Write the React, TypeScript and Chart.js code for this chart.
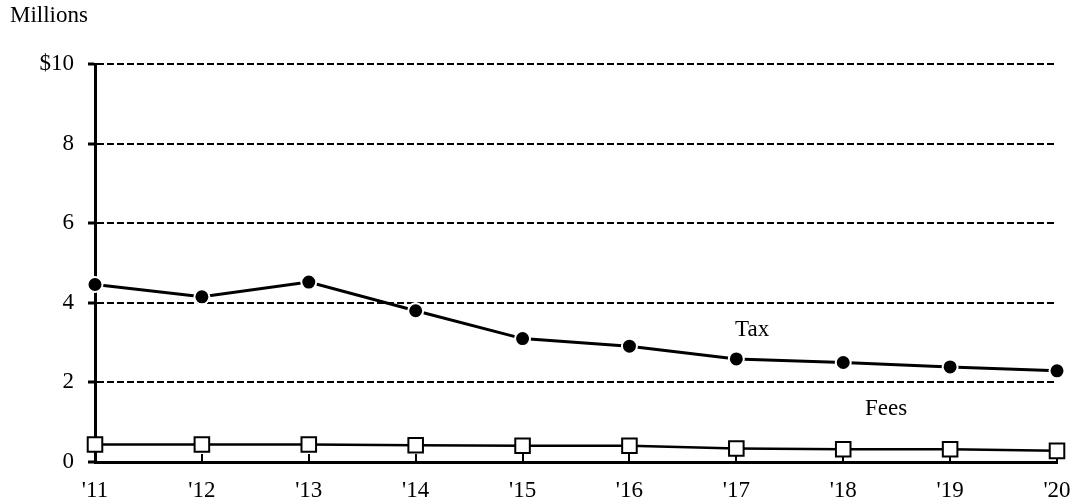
import React, { useEffect, useRef } from "react";
import { Chart, registerables } from "chart.js";

Chart.register(...registerables);

const years = ["'11", "'12", "'13", "'14", "'15", "'16", "'17", "'18", "'19", "'20"];
const taxValues = [4.46, 4.15, 4.52, 3.8, 3.1, 2.91, 2.59, 2.5, 2.39, 2.29];
const feeValues = [0.44, 0.44, 0.44, 0.42, 0.41, 0.41, 0.34, 0.32, 0.32, 0.28];
const yTicks = [0, 2, 4, 6, 8, 10];

const FONT = "'Liberation Serif', 'Times New Roman', serif";

const annotations = {
  id: "annotations",
  beforeDatasetsDraw(chart: any) {
    const { ctx, chartArea, scales } = chart;
    const x = scales.x;
    ctx.save();
    ctx.strokeStyle = "#000";
    ctx.lineWidth = 2;
    for (let i = 0; i < years.length; i++) {
      const px = Math.round(x.getPixelForTick(i));
      ctx.beginPath();
      ctx.moveTo(px, chartArea.bottom);
      ctx.lineTo(px, chartArea.bottom - 8);
      ctx.stroke();
    }
    ctx.restore();
  },
  afterDraw(chart: any) {
    const { ctx } = chart;
    ctx.save();
    ctx.fillStyle = "#000";
    ctx.font = `23px ${FONT}`;
    ctx.textBaseline = "alphabetic";
    ctx.textAlign = "left";
    ctx.fillText("Millions", 10, 22);
    ctx.fillText("Tax", 735, 336);
    ctx.fillText("Fees", 865, 415);
    ctx.restore();
  },
};

export default function App() {
  const ref = useRef<HTMLCanvasElement>(null);
  useEffect(() => {
    if (!ref.current) return;
    const chart = new Chart(ref.current, {
      type: "line",
      data: {
        labels: years,
        datasets: [
          {
            label: "Tax",
            data: taxValues,
            borderColor: "#000",
            borderWidth: 3,
            pointStyle: "circle",
            pointRadius: 7.5,
            pointBackgroundColor: "#000",
            pointBorderColor: "#fff",
            pointBorderWidth: 2,
            tension: 0,
            clip: false as any,
          },
          {
            label: "Fees",
            data: feeValues,
            borderColor: "#000",
            borderWidth: 2.5,
            pointStyle: "rect",
            pointRadius: 10.3,
            pointBackgroundColor: "#fff",
            pointBorderColor: "#000",
            pointBorderWidth: 2,
            tension: 0,
            clip: false as any,
          },
        ],
      },
      options: {
        animation: false,
        responsive: true,
        maintainAspectRatio: false,
        layout: { padding: { left: 0, right: 19, top: 64, bottom: 0 } },
        plugins: {
          legend: { display: false },
          tooltip: { enabled: false },
        },
        scales: {
          x: {
            offset: false,
            grid: { display: false },
            border: { display: true, color: "#000", width: 3 },
            ticks: {
              color: "#000",
              font: { family: FONT, size: 23 },
              padding: 7,
              maxRotation: 0,
              autoSkip: false,
            },
            afterFit(scale: any) {
              scale.height = 41;
              scale.paddingLeft = 0;
              scale.paddingRight = 0;
            },
          },
          y: {
            min: 0,
            max: 10,
            afterBuildTicks(scale: any) {
              scale.ticks = yTicks.map((v) => ({ value: v }));
            },
            grid: {
              color: "#000",
              lineWidth: 2,
              tickLength: 7,
              tickWidth: 3,
              tickBorderDash: [],
            } as any,
            border: { display: true, color: "#000", width: 3, dash: [7, 3] },
            ticks: {
              color: "#000",
              font: { family: FONT, size: 23 },
              padding: 14,
              callback: (v: any) => (v === 10 ? "$10" : String(v)),
            },
            afterFit(scale: any) {
              scale.width = 95;
              scale.paddingTop = 0;
              scale.paddingBottom = 0;
            },
          },
        },
      },
      plugins: [annotations],
    });
    return () => chart.destroy();
  }, []);
  return (
    <div style={{ position: "absolute", left: 0, top: 0, width: 1076, height: 503 }}>
      <canvas ref={ref} />
    </div>
  );
}
